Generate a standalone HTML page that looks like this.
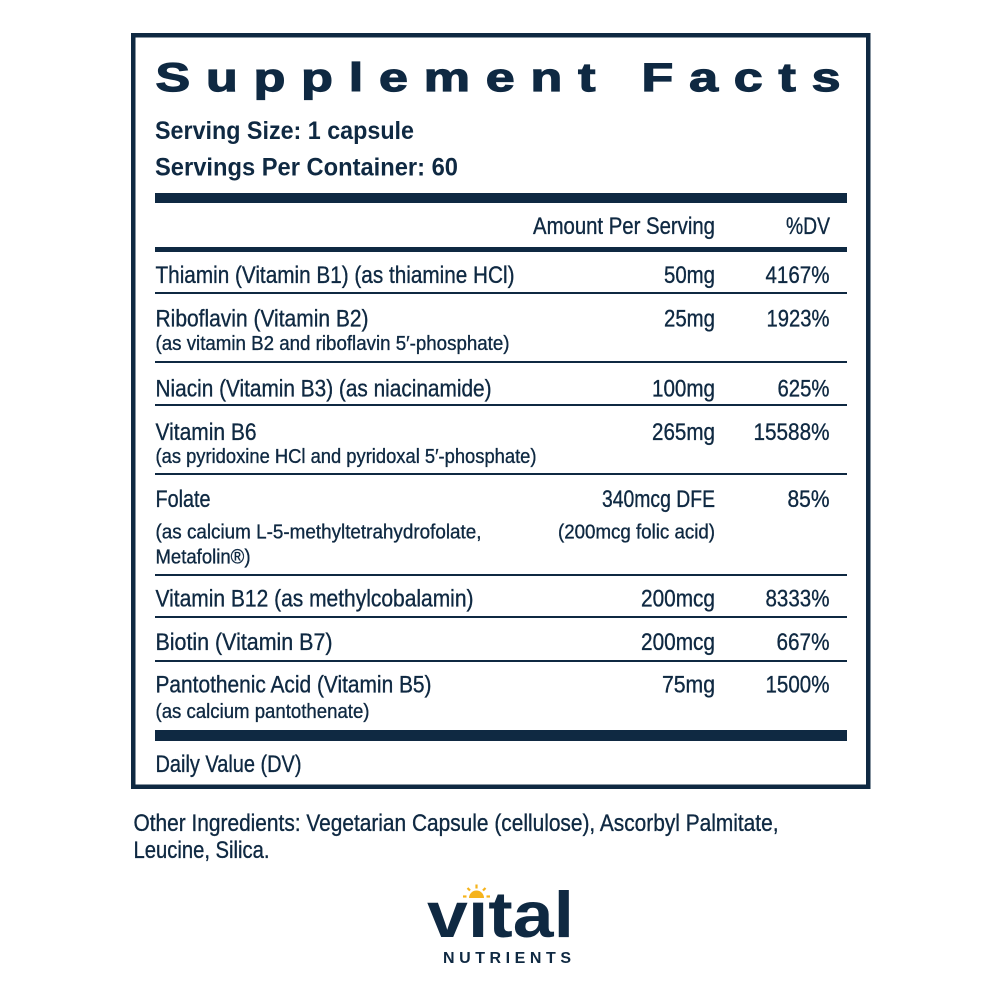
<!DOCTYPE html>
<html>
<head>
<meta charset="utf-8">
<style>
  html,body{margin:0;padding:0;background:#fff;}
  svg{display:block;}
  text{font-family:"Liberation Sans",Arial,sans-serif;fill:#0f2942;}
  .b{stroke:#0f2942;stroke-width:0.35;}
</style>
</head>
<body>
<svg width="1000" height="1000" viewBox="0 0 1000 1000" xmlns="http://www.w3.org/2000/svg">
  <rect x="0" y="0" width="1000" height="1000" fill="#fff"/>
  <!-- outer border -->
  <rect x="133.25" y="35.25" width="735" height="751.5" fill="none" stroke="#0f2942" stroke-width="4.5"/>

  <!-- title -->
  <text transform="translate(155.5,91) scale(1.3,1)" font-size="40" font-weight="bold" textLength="527" lengthAdjust="spacing" stroke="#0f2942" stroke-width="1.2">Supplement Facts</text>
  <text x="155" y="139" font-size="25" font-weight="bold" textLength="259" lengthAdjust="spacingAndGlyphs">Serving Size: 1 capsule</text>
  <text x="155" y="175.5" font-size="25" font-weight="bold" textLength="303" lengthAdjust="spacingAndGlyphs">Servings Per Container: 60</text>

  <g class="b">
  <!-- thick bar -->
  <rect x="155" y="193" width="692" height="10" fill="#0f2942" stroke="none"/>
  <text x="715" y="234" font-size="24" text-anchor="end" textLength="182" lengthAdjust="spacingAndGlyphs">Amount Per Serving</text>
  <text x="830" y="234" font-size="24" text-anchor="end" textLength="44" lengthAdjust="spacingAndGlyphs">%DV</text>
  <rect x="155" y="247" width="692" height="5" fill="#0f2942" stroke="none"/>

  <!-- row 1 -->
  <text x="155.5" y="283" font-size="24" textLength="359" lengthAdjust="spacingAndGlyphs">Thiamin (Vitamin B1) (as thiamine HCl)</text>
  <text x="715" y="283" font-size="24" text-anchor="end" textLength="51" lengthAdjust="spacingAndGlyphs">50mg</text>
  <text x="829.5" y="283" font-size="24" text-anchor="end" textLength="64" lengthAdjust="spacingAndGlyphs">4167%</text>
  <rect x="155" y="292" width="692" height="2" fill="#0f2942" stroke="none"/>

  <!-- row 2 -->
  <text x="155.5" y="326.5" font-size="24" textLength="213" lengthAdjust="spacingAndGlyphs">Riboflavin (Vitamin B2)</text>
  <text x="155.5" y="350" font-size="20" textLength="354" lengthAdjust="spacingAndGlyphs">(as vitamin B2 and riboflavin 5′-phosphate)</text>
  <text x="715" y="326.5" font-size="24" text-anchor="end" textLength="51" lengthAdjust="spacingAndGlyphs">25mg</text>
  <text x="829.5" y="326.5" font-size="24" text-anchor="end" textLength="63" lengthAdjust="spacingAndGlyphs">1923%</text>
  <rect x="155" y="361" width="692" height="2" fill="#0f2942" stroke="none"/>

  <!-- row 3 -->
  <text x="155.5" y="396.5" font-size="24" textLength="336" lengthAdjust="spacingAndGlyphs">Niacin (Vitamin B3) (as niacinamide)</text>
  <text x="715" y="396.5" font-size="24" text-anchor="end" textLength="63" lengthAdjust="spacingAndGlyphs">100mg</text>
  <text x="829.5" y="396.5" font-size="24" text-anchor="end" textLength="52" lengthAdjust="spacingAndGlyphs">625%</text>
  <rect x="155" y="404" width="692" height="2" fill="#0f2942" stroke="none"/>

  <!-- row 4 -->
  <text x="155.5" y="440" font-size="24" textLength="101" lengthAdjust="spacingAndGlyphs">Vitamin B6</text>
  <text x="155.5" y="463" font-size="20" textLength="381" lengthAdjust="spacingAndGlyphs">(as pyridoxine HCl and pyridoxal 5′-phosphate)</text>
  <text x="715" y="440" font-size="24" text-anchor="end" textLength="63" lengthAdjust="spacingAndGlyphs">265mg</text>
  <text x="829.5" y="440" font-size="24" text-anchor="end" textLength="76" lengthAdjust="spacingAndGlyphs">15588%</text>
  <rect x="155" y="473" width="692" height="2" fill="#0f2942" stroke="none"/>

  <!-- row 5 -->
  <text x="155.5" y="507" font-size="24" textLength="55" lengthAdjust="spacingAndGlyphs">Folate</text>
  <text x="155.5" y="538.5" font-size="20" textLength="326" lengthAdjust="spacingAndGlyphs">(as calcium L-5-methyltetrahydrofolate,</text>
  <text x="155.5" y="563.5" font-size="20" textLength="95" lengthAdjust="spacingAndGlyphs">Metafolin®)</text>
  <text x="715" y="507" font-size="24" text-anchor="end" textLength="113" lengthAdjust="spacingAndGlyphs">340mcg DFE</text>
  <text x="715" y="538.5" font-size="20" text-anchor="end" textLength="157" lengthAdjust="spacingAndGlyphs">(200mcg folic acid)</text>
  <text x="829.5" y="507" font-size="24" text-anchor="end" textLength="42" lengthAdjust="spacingAndGlyphs">85%</text>
  <rect x="155" y="574" width="692" height="2" fill="#0f2942" stroke="none"/>

  <!-- row 6 -->
  <text x="155.5" y="606.5" font-size="24" textLength="318" lengthAdjust="spacingAndGlyphs">Vitamin B12 (as methylcobalamin)</text>
  <text x="715" y="606.5" font-size="24" text-anchor="end" textLength="74" lengthAdjust="spacingAndGlyphs">200mcg</text>
  <text x="829.5" y="606.5" font-size="24" text-anchor="end" textLength="64" lengthAdjust="spacingAndGlyphs">8333%</text>
  <rect x="155" y="616" width="692" height="2" fill="#0f2942" stroke="none"/>

  <!-- row 7 -->
  <text x="155.5" y="650" font-size="24" textLength="177" lengthAdjust="spacingAndGlyphs">Biotin (Vitamin B7)</text>
  <text x="715" y="650" font-size="24" text-anchor="end" textLength="74" lengthAdjust="spacingAndGlyphs">200mcg</text>
  <text x="829.5" y="650" font-size="24" text-anchor="end" textLength="53" lengthAdjust="spacingAndGlyphs">667%</text>
  <rect x="155" y="660" width="692" height="2" fill="#0f2942" stroke="none"/>

  <!-- row 8 -->
  <text x="155.5" y="692.5" font-size="24" textLength="276" lengthAdjust="spacingAndGlyphs">Pantothenic Acid (Vitamin B5)</text>
  <text x="155.5" y="718" font-size="20" textLength="214" lengthAdjust="spacingAndGlyphs">(as calcium pantothenate)</text>
  <text x="715" y="692.5" font-size="24" text-anchor="end" textLength="53" lengthAdjust="spacingAndGlyphs">75mg</text>
  <text x="829.5" y="692.5" font-size="24" text-anchor="end" textLength="64" lengthAdjust="spacingAndGlyphs">1500%</text>

  <!-- bottom thick bar -->
  <rect x="155" y="730" width="692" height="11" fill="#0f2942" stroke="none"/>
  <text x="155.5" y="772" font-size="24" textLength="146" lengthAdjust="spacingAndGlyphs">Daily Value (DV)</text>

  <!-- other ingredients -->
  <text x="133.5" y="831" font-size="24" textLength="645" lengthAdjust="spacingAndGlyphs">Other Ingredients: Vegetarian Capsule (cellulose), Ascorbyl Palmitate,</text>
  <text x="133.5" y="858" font-size="24" textLength="136" lengthAdjust="spacingAndGlyphs">Leucine, Silica.</text>
  </g>

  <!-- logo -->
  <text x="427" y="937" font-size="65" font-weight="bold" textLength="147" lengthAdjust="spacingAndGlyphs">vıtal</text>
  <g fill="#f5b31c" stroke="#f5b31c">
    <path d="M469 898 A7.5 7.5 0 0 1 484 898 Z" stroke="none"/>
    <line x1="476.5" y1="884.5" x2="476.5" y2="888.5" stroke-width="2.2"/>
    <line x1="467.5" y1="888" x2="470" y2="890.5" stroke-width="2.2"/>
    <line x1="485.5" y1="888" x2="483" y2="890.5" stroke-width="2.2"/>
    <line x1="463" y1="896.5" x2="466.5" y2="896.5" stroke-width="2.2"/>
    <line x1="486.5" y1="896.5" x2="490" y2="896.5" stroke-width="2.2"/>
  </g>
  <text x="443" y="963" font-size="16" font-weight="bold" textLength="128" lengthAdjust="spacing">NUTRIENTS</text>
</svg>
</body>
</html>
